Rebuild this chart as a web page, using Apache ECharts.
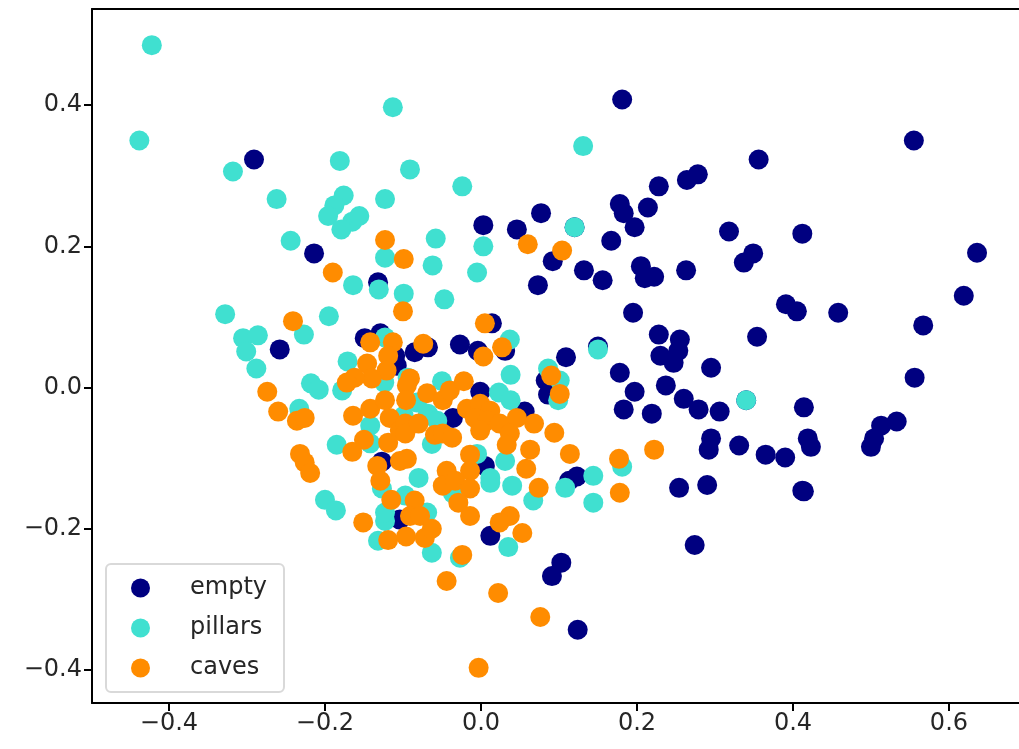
<!DOCTYPE html>
<html><head><meta charset="utf-8">
<style>html,body{margin:0;padding:0;background:#fff;overflow:hidden}#c{width:1019px;height:749px}</style>
<script src="https://cdn.jsdelivr.net/npm/echarts@6/dist/echarts.min.js"></script>
</head><body><div id="c"></div>
<script>
const seriesNames = ['empty','pillars','caves'];
const seriesColors = ['#000080','#40e0d0','#ff8c00'];
const xTicks = [-0.4,-0.2,0,0.2,0.4,0.6];
const yTicks = [-0.4,-0.2,0,0.2,0.4];
const empty = [[.181,.408],[.555,.350],[-.291,.323],[.356,.323],[.278,.302],[.264,.294],[.228,.285],[.178,.260],[.214,.255],[.077,.247],[.183,.247],[.197,.227],[.046,.224],[.003,.230],[.12,.227],[.318,.221],[.412,.218],[.636,.191],[.167,.208],[.349,.190],[.337,.177],[-.214,.190],[.092,.179],[.205,.172],[.073,.145],[.132,.166],[.21,.155],[.222,.157],[.156,.152],[.263,.166],[.619,.130],[.391,.118],[.405,.108],[.458,.106],[.195,.106],[.567,.088],[-.132,.149],[.014,.091],[.228,.075],[.255,.068],[.354,.072],[-.258,.054],[.15,.058],[.253,.052],[.23,.045],[.247,.035],[.109,.043],[-.027,.061],[-.004,.052],[.031,.052],[-.129,.077],[-.149,.07],[-.11,.045],[-.108,.031],[-.085,.05],[-.068,.057],[.178,.021],[.295,.028],[.556,.014],[.237,.003],[.197,-.006],[.26,-.016],[.34,-.018],[.414,-.028],[.279,-.031],[.306,-.034],[.183,-.031],[.219,-.037],[-.001,-.006],[.083,.01],[.086,-.01],[.056,-.034],[-.036,-.043],[.533,-.048],[.513,-.054],[.504,-.072],[.5,-.084],[.419,-.072],[.423,-.084],[.295,-.072],[.292,-.088],[.331,-.082],[.365,-.095],[.39,-.099],[.412,-.146],[.414,-.147],[.254,-.142],[.29,-.138],[-.127,-.105],[.005,-.111],[.123,-.126],[.113,-.132],[-.104,-.187],[.012,-.21],[.274,-.223],[.103,-.248],[.091,-.267],[.124,-.343]];
const pillars = [[-.422,.485],[-.113,.397],[-.438,.35],[.131,.342],[-.318,.306],[-.181,.321],[-.091,.309],[-.024,.285],[-.262,.267],[-.123,.267],[-.176,.272],[-.188,.258],[-.196,.243],[-.165,.235],[-.156,.243],[-.179,.224],[-.244,.208],[-.058,.211],[.003,.2],[-.123,.184],[-.062,.173],[-.005,.163],[-.164,.145],[-.131,.139],[-.099,.133],[-.047,.125],[-.328,.104],[-.195,.101],[-.227,.075],[-.305,.07],[-.286,.074],[-.301,.051],[-.288,.027],[-.171,.037],[-.218,.006],[-.208,-.003],[-.178,-.004],[-.233,-.03],[-.185,-.081],[-.2,-.159],[-.186,-.174],[-.142,-.054],[-.142,-.079],[-.124,.007],[.037,.068],[.038,.018],[.15,.054],[.023,-.007],[.038,-.018],[.086,.027],[.101,.01],[.099,-.018],[-.05,.009],[-.068,-.037],[-.056,-.047],[-.063,-.08],[-.08,-.128],[.34,-.018],[.12,.227],[.031,-.104],[.012,-.128],[.04,-.139],[.108,-.142],[.144,-.125],[.144,-.163],[.067,-.16],[.181,-.112],[.035,-.226],[-.063,-.234],[-.027,-.241],[-.132,-.217],[-.123,-.189],[-.123,-.177],[-.097,-.153],[-.069,-.177],[-.127,-.143],[-.005,-.094],[-.036,-.15],[-.099,-.04],[.012,-.135],[-.123,.071],[-.094,.014],[-.082,-.021]];
const caves = [[-.123,.209],[.06,.203],[.104,.194],[-.099,.182],[-.19,.163],[-.1,.108],[-.241,.094],[.005,.091],[.027,.057],[.003,.044],[-.074,.062],[-.142,.064],[-.113,.064],[-.119,.045],[-.146,.034],[-.121,.024],[-.14,.013],[-.162,.014],[-.172,.007],[-.274,-.006],[-.26,-.034],[-.236,-.047],[-.226,-.043],[-.232,-.094],[-.226,-.106],[-.219,-.121],[-.165,-.091],[-.15,-.074],[-.119,-.078],[-.164,-.04],[-.142,-.03],[-.123,-.018],[-.117,-.043],[-.104,-.061],[-.133,-.111],[-.129,-.132],[-.104,-.104],[.09,.017],[.101,-.009],[-.091,.013],[-.095,.003],[-.096,-.018],[-.069,-.008],[-.049,-.018],[-.04,-.004],[-.022,.009],[-.018,-.03],[-.001,-.023],[.012,-.033],[-.008,-.043],[.008,-.047],[-.001,-.061],[.024,-.051],[.046,-.043],[.037,-.065],[.033,-.081],[.068,-.051],[.094,-.064],[.063,-.088],[.114,-.094],[.058,-.115],[.074,-.142],[-.097,-.051],[-.097,-.065],[-.08,-.051],[-.059,-.067],[-.049,-.065],[-.037,-.071],[-.095,-.101],[-.014,-.095],[-.044,-.118],[-.014,-.118],[-.049,-.139],[-.033,-.132],[-.014,-.143],[-.029,-.163],[-.014,-.182],[-.085,-.16],[-.091,-.182],[-.078,-.182],[.037,-.182],[.024,-.191],[-.115,-.159],[-.151,-.191],[-.119,-.216],[-.096,-.211],[-.072,-.213],[-.063,-.2],[-.024,-.237],[-.044,-.274],[.053,-.206],[.022,-.291],[.076,-.325],[-.003,-.397],[.177,-.101],[.178,-.149],[.222,-.088]];
const seriesData = [empty,pillars,caves];
const xMin = -0.4987, xMax = 0.6898;
const fmt = v => (v<0?'\u2212':'') + Math.abs(v).toFixed(1);
const axisCommon = {
  type:'value', splitLine:{show:false},
  axisLine:{show:true,onZero:false,lineStyle:{color:'#000',width:2}},
  axisTick:{show:true,length:8,lineStyle:{color:'#000',width:2}},
};
const chart = echarts.init(document.getElementById('c'),null,{renderer:'canvas'});
chart.setOption({
  animation:false,
  backgroundColor:'#fff',
  grid:{left:92,top:9,right:0,bottom:46,containLabel:false,show:false},
  xAxis:[
    Object.assign({},axisCommon,{position:'bottom',min:xMin,max:xMax,
      axisTick:Object.assign({},axisCommon.axisTick,{customValues:xTicks}),
      axisLabel:{customValues:xTicks,formatter:fmt,color:'#262626',fontFamily:'DejaVu Sans',fontSize:24,margin:9}}),
    Object.assign({},axisCommon,{position:'top',min:xMin,max:xMax,
      axisTick:{show:false},axisLabel:{show:false}})
  ],
  yAxis:Object.assign({},axisCommon,{min:-0.4468,max:0.5362,
    axisTick:Object.assign({},axisCommon.axisTick,{customValues:yTicks}),
    axisLabel:{customValues:yTicks,formatter:fmt,color:'#262626',fontFamily:'DejaVu Sans',fontSize:24,margin:10}}),
  legend:{
    left:106,top:564,orient:'vertical',
    data:seriesNames.map(n=>({name:n,icon:'circle'})),
    itemWidth:19,itemHeight:19,itemGap:16,
    padding:[12,17,12,25],
    backgroundColor:'#fff',borderColor:'#d9d9d9',borderWidth:2,borderRadius:5,
    textStyle:{fontFamily:'DejaVu Sans',fontSize:24,color:'#262626',padding:[0,0,0,35]}
  },
  series:seriesNames.map((n,i)=>({
    name:n,type:'scatter',xAxisIndex:0,yAxisIndex:0,data:seriesData[i],symbol:'circle',symbolSize:20,
    itemStyle:{color:seriesColors[i],opacity:1},z:2+i
  }))
});
</script></body></html>
